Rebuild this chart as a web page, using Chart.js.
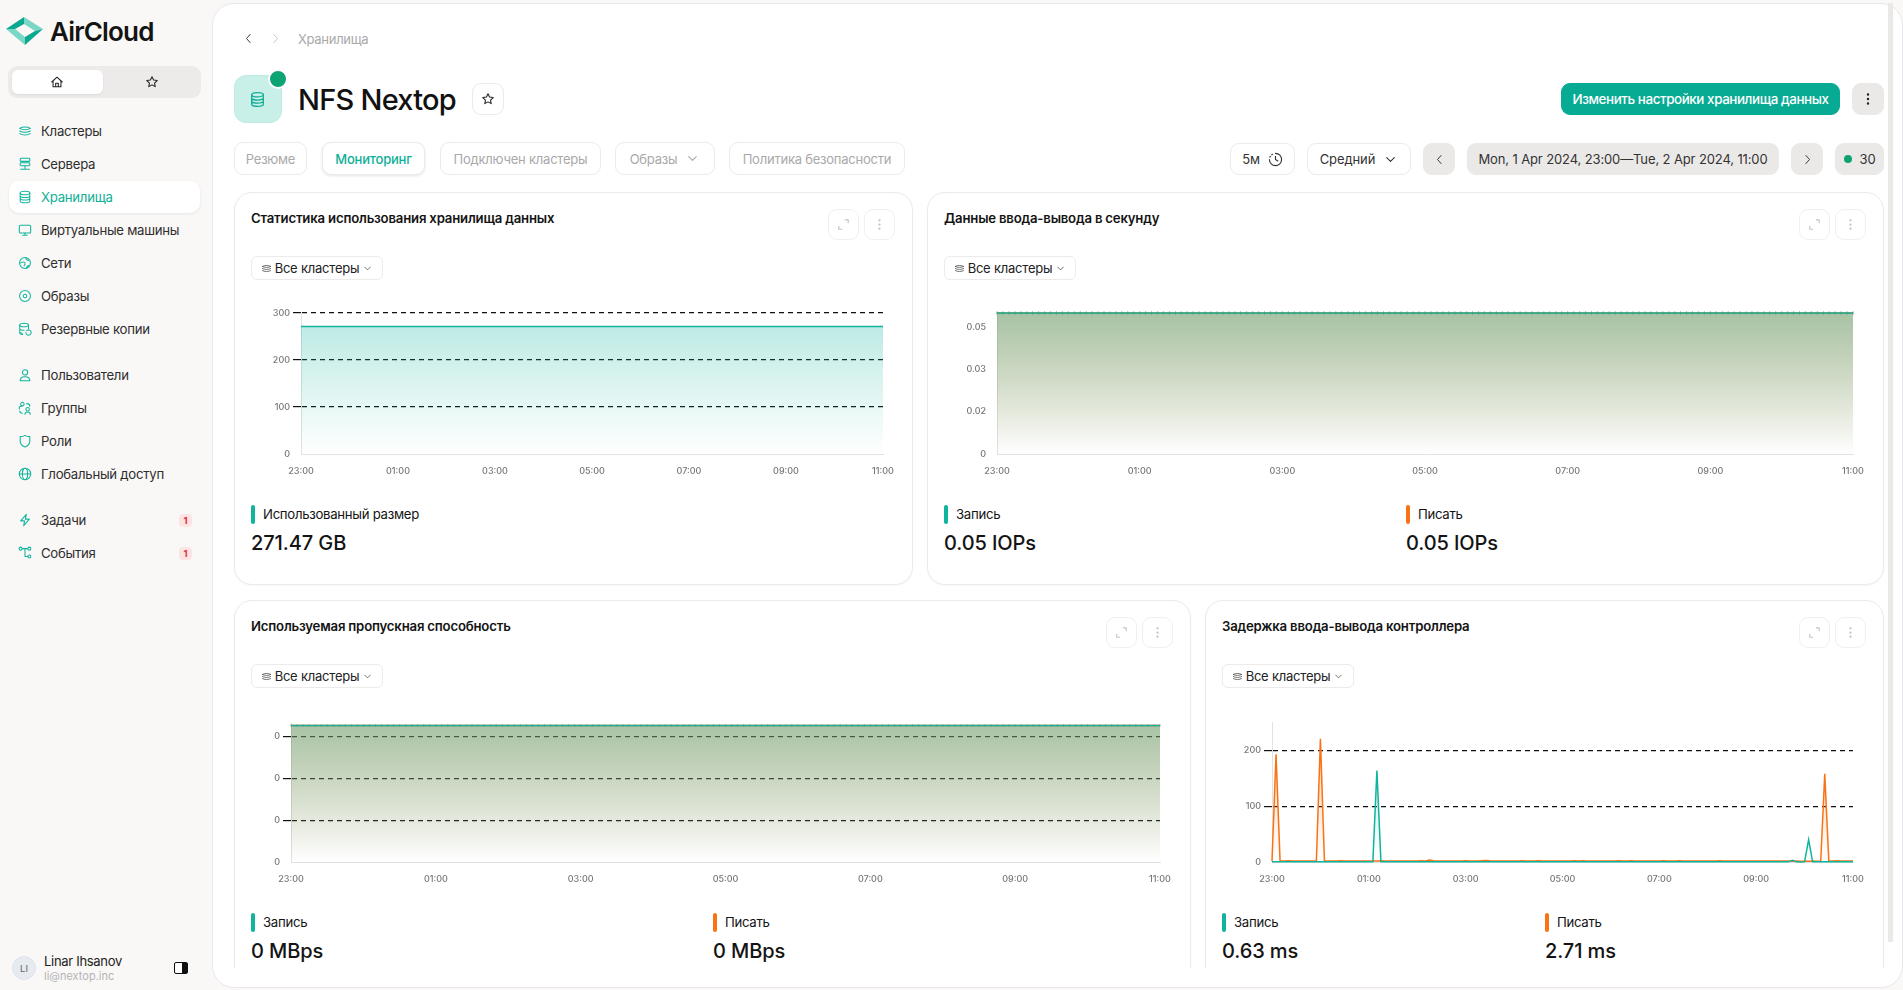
<!DOCTYPE html>
<html lang="ru">
<head>
<meta charset="utf-8">
<title>AirCloud</title>
<script src="https://cdn.jsdelivr.net/npm/chart.js@4"></script>
<style>
html,body{margin:0;padding:0;width:1903px;height:990px;overflow:hidden;background:#faf8f7;font-family:Inter,"Noto Sans",sans-serif;color:#141414}
.abs,.btn,.txt,.card,.nav,.bar,.val,.lab{position:absolute;box-sizing:border-box}
.txt,.nav,.lab,.val{white-space:nowrap;line-height:1}
.nav{left:41px;font-size:13.2px;letter-spacing:-.27px;color:#2e2e2e;transform:translateY(-50%)}
.btn{border:1px solid #ecebea;border-radius:9px;display:flex;align-items:center;justify-content:center;font-size:13px;letter-spacing:-.22px;background:#fff;white-space:nowrap;color:#a9a9a9;gap:8px}
.btn.grey{background:#ebe9e7;border-color:#ebe9e7;color:#333}
.card{background:#fff;border:1px solid #eceaea;border-radius:18px;box-shadow:0 1px 2px rgba(0,0,0,.04)}
.bar{width:4px;height:19px;border-radius:2px}
.lab{font-size:13.2px;letter-spacing:-.3px;transform:translateY(-50%)}
.val{font-size:20px;font-weight:500;letter-spacing:-.1px;transform:translateY(-50%)}
.ttl{font-size:13.2px;font-weight:600;letter-spacing:-.2px}
canvas{position:absolute;display:block}
svg{display:block}
</style>
</head>
<body>
<div id="page"></div>
<script>
// five minute samples, 23:00 to 11:00
var categories = []
for (var m = 0; m <= 720; m += 5) {
    var total = 23 * 60 + m
    var hh = Math.floor(total / 60) % 24
    var mm = total % 60
    categories.push((hh < 10 ? "0" : "") + hh + ":" + (mm < 10 ? "0" : "") + mm)
}
var timeTicks = ["23:00", "01:00", "03:00", "05:00", "07:00", "09:00", "11:00"]

var storageTicks = [0, 100, 200, 300]
var iopsTicks = [0, 0.0167, 0.0333, 0.05]
var bandwidthTicks = [0, 0.001, 0.002, 0.003]
var latencyTicks = [0, 100, 200]

var storageUsed = [
    271.47,271.47,271.47,271.47,271.47,271.47,271.47,271.47,271.47,271.47,271.47,271.47,
    271.47,271.47,271.47,271.47,271.47,271.47,271.47,271.47,271.47,271.47,271.47,271.47,
    271.47,271.47,271.47,271.47,271.47,271.47,271.47,271.47,271.47,271.47,271.47,271.47,
    271.47,271.47,271.47,271.47,271.47,271.47,271.47,271.47,271.47,271.47,271.47,271.47,
    271.47,271.47,271.47,271.47,271.47,271.47,271.47,271.47,271.47,271.47,271.47,271.47,
    271.47,271.47,271.47,271.47,271.47,271.47,271.47,271.47,271.47,271.47,271.47,271.47,
    271.47,271.47,271.47,271.47,271.47,271.47,271.47,271.47,271.47,271.47,271.47,271.47,
    271.47,271.47,271.47,271.47,271.47,271.47,271.47,271.47,271.47,271.47,271.47,271.47,
    271.47,271.47,271.47,271.47,271.47,271.47,271.47,271.47,271.47,271.47,271.47,271.47,
    271.47,271.47,271.47,271.47,271.47,271.47,271.47,271.47,271.47,271.47,271.47,271.47,
    271.47,271.47,271.47,271.47,271.47,271.47,271.47,271.47,271.47,271.47,271.47,271.47,
    271.47,271.47,271.47,271.47,271.47,271.47,271.47,271.47,271.47,271.47,271.47,271.47,
    271.47]

var iopsWrite = [
    .0555,.0555,.0555,.0555,.0555,.0555,.0555,.0555,.0555,.0555,.0555,.0555,
    .0555,.0555,.0555,.0555,.0555,.0555,.0555,.0555,.0555,.0555,.0555,.0555,
    .0555,.0555,.0555,.0555,.0555,.0555,.0555,.0555,.0555,.0555,.0555,.0555,
    .0555,.0555,.0555,.0555,.0555,.0555,.0555,.0555,.0555,.0555,.0555,.0555,
    .0555,.0555,.0555,.0555,.0555,.0555,.0555,.0555,.0555,.0555,.0555,.0555,
    .0555,.0555,.0555,.0555,.0555,.0555,.0555,.0555,.0555,.0555,.0555,.0555,
    .0555,.0555,.0555,.0555,.0555,.0555,.0555,.0555,.0555,.0555,.0555,.0555,
    .0555,.0555,.0555,.0555,.0555,.0555,.0555,.0555,.0555,.0555,.0555,.0555,
    .0555,.0555,.0555,.0555,.0555,.0555,.0555,.0555,.0555,.0555,.0555,.0555,
    .0555,.0555,.0555,.0555,.0555,.0555,.0555,.0555,.0555,.0555,.0555,.0555,
    .0555,.0555,.0555,.0555,.0555,.0555,.0555,.0555,.0555,.0555,.0555,.0555,
    .0555,.0555,.0555,.0555,.0555,.0555,.0555,.0555,.0555,.0555,.0555,.0555,
    .0555]
var iopsRead = iopsWrite.slice()

var bandwidthWrite = [
    .00326,.00326,.00326,.00326,.00326,.00326,.00326,.00326,.00326,.00326,.00326,.00326,
    .00326,.00326,.00326,.00326,.00326,.00326,.00326,.00326,.00326,.00326,.00326,.00326,
    .00326,.00326,.00326,.00326,.00326,.00326,.00326,.00326,.00326,.00326,.00326,.00326,
    .00326,.00326,.00326,.00326,.00326,.00326,.00326,.00326,.00326,.00326,.00326,.00326,
    .00326,.00326,.00326,.00326,.00326,.00326,.00326,.00326,.00326,.00326,.00326,.00326,
    .00326,.00326,.00326,.00326,.00326,.00326,.00326,.00326,.00326,.00326,.00326,.00326,
    .00326,.00326,.00326,.00326,.00326,.00326,.00326,.00326,.00326,.00326,.00326,.00326,
    .00326,.00326,.00326,.00326,.00326,.00326,.00326,.00326,.00326,.00326,.00326,.00326,
    .00326,.00326,.00326,.00326,.00326,.00326,.00326,.00326,.00326,.00326,.00326,.00326,
    .00326,.00326,.00326,.00326,.00326,.00326,.00326,.00326,.00326,.00326,.00326,.00326,
    .00326,.00326,.00326,.00326,.00326,.00326,.00326,.00326,.00326,.00326,.00326,.00326,
    .00326,.00326,.00326,.00326,.00326,.00326,.00326,.00326,.00326,.00326,.00326,.00326,
    .00326]
var bandwidthRead = bandwidthWrite.slice()

var latencyWrite = [
    .3,.3,.3,.3,.3,.3,.3,.3,.3,.3,.3,.3,
    .3,.3,.3,.3,.3,.3,.3,.3,.3,.3,.3,.3,
    .3,.3,164,.3,.3,.3,.3,.3,.3,.3,.3,.3,
    .3,.3,.3,.3,.3,.3,.3,.3,.3,.3,.3,.3,
    .3,.3,.3,.3,.3,.3,.3,.3,.3,.3,.3,.3,
    .3,.3,.3,.3,.3,.3,.3,.3,.3,.3,.3,.3,
    .3,.3,.3,.3,.3,.3,.3,.3,.3,.3,.3,.3,
    .3,.3,.3,.3,.3,.3,.3,.3,.3,.3,.3,.3,
    .3,.3,.3,.3,.3,.3,.3,.3,.3,.3,.3,.3,
    .3,.3,.3,.3,.3,.3,.3,.3,.3,.3,.3,.3,
    .3,.3,.3,.3,.3,.3,.3,.3,.3,3,.3,.2,
    .3,40,.3,.3,.3,.3,.3,.3,.3,.3,.3,.3,
    .3]
var latencyRead = [
    1.5,193,2,2,2.1,2,2,1.9,2,2,1.8,2,
    221,2,2,2,1.9,2.1,2,2,2,1.9,2,2,
    2,2,2,2.1,2,2,1.9,2,2,2,2,2,
    2,2.2,2,3.5,2.4,2,2,2,1.9,2,2,2,
    2.1,2,2,2,2.4,2.6,2.2,2,2,1.9,2,2,
    2,2,2.3,2,2,2,2.1,2,2,1.9,2,2,
    2,2,2,2.1,2,2.2,2,2,1.9,2,2,2,
    2,2,2.1,2,2,2.3,2,1.9,2,2,2,2,
    2,2.1,2,2,2,2.2,2,2,2,1.9,2,2,
    2,2,2,2.1,2,2,2,2,2,1.9,2,2,
    2,2,2,1.9,2,2,2,2,2,1.5,1.6,1.5,
    1.5,1.5,1.6,1.5,1.6,158,2,2,2.1,2,2,2,
    2]

var TEAL = "#10b49c"
var ORANGE = "#f97316"

function el(cls, style, html, parent) {
    var d = document.createElement("div")
    d.className = cls
    d.style.cssText = style
    if (html) d.innerHTML = html
    ;(parent || page).appendChild(d)
    return d
}
var page = document.getElementById("page")

function icon(body, size, color, extra) {
    return '<svg width="' + size + '" height="' + size + '" viewBox="0 0 16 16" fill="none" stroke="' + (color || TEAL) + '" stroke-width="1.2" stroke-linecap="round" stroke-linejoin="round" ' + (extra || "") + '>' + body + '</svg>'
}
var ICONS = {
    layers: '<path d="M2 5c3-2 9-2 12 0M2 8c3 2 9 2 12 0M2 11c3 2 9 2 12 0M2 5c3 2 9 2 12 0"/>',
    server: '<rect x="2.5" y="1.5" width="11" height="3.5" rx="1"/><rect x="2.5" y="6.5" width="11" height="3.5" rx="1"/><path d="M8 10v3M3 14h10"/>',
    db: '<ellipse cx="8" cy="3.5" rx="5.5" ry="2"/><path d="M2.5 3.5v9c0 1 2.5 2 5.5 2s5.5-1 5.5-2v-9M2.5 6.5c0 1 2.5 2 5.5 2s5.5-1 5.5-2M2.5 9.5c0 1 2.5 2 5.5 2s5.5-1 5.5-2"/>',
    screen: '<rect x="1.5" y="2.5" width="13" height="9" rx="1.2"/><path d="M8 11.5v2.5M5.5 14h5"/>',
    net: '<circle cx="8" cy="8" r="6.2"/><path d="M2 8c2 0 3-2 5-1s1 3 0 4M9 2c0 2 1 3 3 3M10 14c0-2 1-3 3-3"/>',
    disc: '<circle cx="8" cy="8" r="6.2"/><circle cx="8" cy="8" r="2"/>',
    backup: '<ellipse cx="7" cy="3.5" rx="5" ry="2"/><path d="M2 3.5v9c0 1 1.5 1.6 3.5 1.8M12 3.5v4M2 7.5c0 1 2.2 2 5 2M2 11c0 1 1.5 1.6 3 1.8"/><path d="M9 12a3 3 0 1 0 1-2.2"/>',
    user: '<circle cx="8" cy="5" r="3"/><path d="M2.5 14.5c0-3 2.5-4.5 5.5-4.5s5.5 1.5 5.5 4.5z"/>',
    group: '<circle cx="5" cy="3.5" r="2"/><circle cx="11" cy="9.5" r="2"/><path d="M1.5 9V7.5c0-.8 1-1.5 3-1.5M8 15c0-2 1.5-2.5 3-2.5s3 .5 3 2.5M2 11.5c0 1.5.8 2.500 3 2.500M10 3c2 0 3.500.5 3.500 3"/>',
    shield: '<path d="M2.5 3C5 3 6.5 2.5 8 1.500 9.500 2.500 11 3 13.500 3v5c0 3.500-3 6-5.500 6.800C5.500 14 2.500 11.500 2.500 8z"/>',
    globe: '<circle cx="8" cy="8" r="6.5"/><ellipse cx="8" cy="8" rx="3" ry="6.5"/><path d="M1.5 8h13"/>',
    bolt: '<path d="M9.5 1.5 3 9h4.5l-1 5.5L13 7H8.5z"/>',
    flow: '<circle cx="3" cy="3" r="1.7"/><circle cx="13" cy="3" r="1.7"/><circle cx="13" cy="12" r="1.7"/><path d="M5 3h6M8 3v9h3"/>',
    home: '<path d="M2 8 8 2.5 14 8M3.5 7v6.500h9V7M6.500 13.500V9.500h3v4"/>',
    star: '<path d="m8 2 1.8 3.8 4.2.5-3.100 2.900.8 4.100L8 11.300 4.300 13.300l.8-4.100L2 6.300l4.200-.5z"/>',
    clock: '<path d="M8 1.5a6.500 6.500 0 1 1-6.500 6.500" /><path d="M8 4.500V8l2.500 1.500"/><path d="M2 5.500 3 4M4 3l1.500-1" stroke-dasharray="1 1"/>',
    chevDown: '<path d="M4 6l4 4 4-4"/>',
    expand: '<path d="M10 3h3v3M6 13H3v-3"/>',
    more: '<circle cx="8" cy="3.5" r=".6"/><circle cx="8" cy="8" r=".6"/><circle cx="8" cy="12.5" r=".6"/>'
}

// sidebar
el("abs", "left:5px;top:16px;width:40px;height:30px", '<svg width="40" height="30" viewBox="0 0 40 30"><path d="M1 13 19 1v7l-9 5z" fill="#0aa88f"/><path d="M19 1 38 13l-8 2-11-7z" fill="#7ad6c5"/><path d="M1 13h9l10 8v8z" fill="#7ad6c5"/><path d="M20 29 38 13l-8 2-10 6z" fill="#0aa88f"/></svg>')
el("txt", "left:50px;top:19px;font-size:26px;font-weight:600;letter-spacing:-.8px", "AirCloud")
el("abs", "left:8px;top:66px;width:193px;height:32px;background:#ecebe9;border-radius:9px")
el("abs", "left:12px;top:70px;width:91px;height:24px;background:#fff;border-radius:6px;box-shadow:0 1px 2px rgba(0,0,0,.08)")
el("abs", "left:50px;top:75px", icon(ICONS.home, 14, "#222"))
el("abs", "left:145px;top:75px", icon(ICONS.star, 14, "#222"))
el("abs", "left:9px;top:181px;width:191px;height:32px;background:#fff;border-radius:10px;box-shadow:0 1px 3px rgba(0,0,0,.08)")

var navItems = [
    ["Кластеры", 131, "layers"], ["Сервера", 164, "server"], ["Хранилища", 197, "db"],
    ["Виртуальные машины", 230, "screen"], ["Сети", 263, "net"], ["Образы", 296, "disc"],
    ["Резервные копии", 329, "backup"], ["Пользователи", 375, "user"], ["Группы", 408, "group"],
    ["Роли", 441, "shield"], ["Глобальный доступ", 474, "globe"], ["Задачи", 520, "bolt"], ["События", 553, "flow"]
]
navItems.forEach(function (n) {
    el("abs", "left:18px;top:" + (n[1] - 7) + "px", icon(ICONS[n[2]], 14))
    el("nav", "top:" + (n[1] + 1) + "px;" + (n[0] === "Хранилища" ? "color:#0eaf96;" : ""), n[0])
})
;[520, 553].forEach(function (y) {
    el("abs", "left:179px;top:" + (y - 6) + "px;width:13px;height:13px;border-radius:4px;background:#fde4e4;color:#e0323c;font-size:9.5px;font-weight:700;text-align:center;line-height:13px", "1")
})
el("abs", "left:12px;top:956px;width:24px;height:24px;border-radius:50%;background:#e6ebf2;border:1px solid #dfe4ec;font-size:9.5px;color:#666;text-align:center;line-height:23px", "LI")
el("txt", "left:44px;top:955px;font-size:13px;letter-spacing:-.3px;color:#222", "Linar Ihsanov")
el("txt", "left:44px;top:971px;font-size:11px;color:#b4b4b4", "li@nextop.inc")
el("abs", "left:174px;top:962px;width:14px;height:12px;border:1.5px solid #111;border-radius:2px;background:linear-gradient(90deg,#fff 55%,#111 55%)")

// main panel
el("abs", "left:212px;top:3px;width:1691px;height:985px;background:#fff;border-radius:22px;border:1px solid #e9e7ea;box-sizing:border-box")
el("abs", "left:1888px;top:3px;width:5px;height:939px;background:#ebe9e7")

el("abs", "left:242px;top:32px", icon('<path d="M10 3 5.5 8l4.5 5"/>', 13, "#333"))
el("abs", "left:269px;top:32px", icon('<path d="M6 3l4.5 5L6 13"/>', 13, "#c4c4c4"))
el("txt", "left:298px;top:33px;font-size:13px;letter-spacing:-.3px;color:#a9a9a9", "Хранилища")

el("abs", "left:234px;top:75px;width:48px;height:48px;background:#c8f0e8;border-radius:12px;border:1px solid #bfeae1;box-sizing:border-box")
el("abs", "left:249px;top:91px", icon(ICONS.db, 17, "#12ad96"))
el("abs", "left:268px;top:69px;width:20px;height:20px;background:#0ea372;border:2px solid #fff;border-radius:50%;box-sizing:border-box")
el("txt", "left:298px;top:85px;font-size:29px;font-weight:500;letter-spacing:-.75px;color:#111", "NFS Nextop")
el("btn", "left:472px;top:83px;width:32px;height:32px", icon(ICONS.star, 14, "#222"))

var tabs = [["Резюме", 234, 73], ["Мониторинг", 322, 103], ["Подключен кластеры", 440, 161], ["Образы", 615, 100], ["Политика безопасности", 729, 176]]
tabs.forEach(function (t) {
    var active = t[0] === "Мониторинг"
    el("btn", "left:" + t[1] + "px;top:142px;width:" + t[2] + "px;height:33px;" + (active ? "color:#0eaf96;font-weight:500;box-shadow:0 1px 3px rgba(0,0,0,.1);" : ""),
        t[0] + (t[0] === "Образы" ? icon(ICONS.chevDown, 15, "#a9a9a9") : ""))
})

el("btn", "left:1561px;top:83px;width:279px;height:32px;background:#07ab93;border-color:#07ab93;color:#fff;font-weight:500;font-size:13.4px;letter-spacing:-.42px", "Изменить настройки хранилища данных")
el("btn grey", "left:1852px;top:83px;width:32px;height:32px", icon(ICONS.more, 16, "#222"))
el("btn", "left:1230px;top:143px;width:65px;height:32px;color:#333", "5м" + icon(ICONS.clock, 15, "#333"))
el("btn", "left:1307px;top:143px;width:104px;height:32px;color:#333;letter-spacing:-.1px", "Средний" + icon(ICONS.chevDown, 15, "#333"))
el("btn grey", "left:1423px;top:143px;width:32px;height:32px", icon('<path d="M10 3 5.5 8l4.500 5"/>', 13, "#333"))
el("btn grey", "left:1467px;top:143px;width:312px;height:32px;letter-spacing:-.12px", "Mon, 1 Apr 2024, 23:00—Tue, 2 Apr 2024, 11:00")
el("btn grey", "left:1791px;top:143px;width:32px;height:32px", icon('<path d="M6 3l4.5 5L6 13"/>', 13, "#333"))
el("btn grey", "left:1835px;top:143px;width:49px;height:32px", '<span style="width:8px;height:8px;border-radius:50%;background:#0ea372"></span>30')

// cards are cut by the scroll area
var scroll = el("abs", "left:0;top:0;width:1903px;height:968px;overflow:hidden")

function button(left, top, body) {
    return el("btn", "left:" + left + "px;top:" + top + "px;width:31px;height:31px;border-color:#f1f0ef", icon(body, 15, "#c2c2c2"), scroll)
}

function card(c) {
    el("card", "left:" + c.x + "px;top:" + c.y + "px;width:" + c.w + "px;height:" + c.h + "px", "", scroll)
    el("txt ttl", "left:" + (c.x + 17) + "px;top:" + (c.y + 20) + "px", c.title, scroll)
    button(c.x + c.w - 85, c.y + 17, ICONS.expand)
    button(c.x + c.w - 49, c.y + 17, ICONS.more)
    el("btn", "left:" + (c.x + 17) + "px;top:" + (c.y + 64) + "px;width:132px;height:24px;border-radius:6px;color:#222;gap:3px;font-size:13px", icon(ICONS.layers, 11, "#555") + "Все кластеры" + icon(ICONS.chevDown, 11, "#555"), scroll)
    c.legend.forEach(function (l) {
        el("bar", "left:" + l.x + "px;top:" + (c.y + 313) + "px;background:" + l.color, "", scroll)
        el("lab", "left:" + (l.x + 12) + "px;top:" + (c.y + 323) + "px", l.label, scroll)
        el("val", "left:" + l.x + "px;top:" + (c.y + 351) + "px", l.value, scroll)
    })
}

function gradient(color) {
    return function (ctx) {
        var area = ctx.chart.chartArea
        if (!area) return "transparent"
        var g = ctx.chart.ctx.createLinearGradient(0, area.top, 0, area.bottom)
        g.addColorStop(0, color[0])
        g.addColorStop(1, color[1])
        return g
    }
}
var tealFill = gradient(["rgba(16,180,156,.3)", "rgba(16,180,156,0)"])
var tealFillStrong = gradient(["rgba(16,180,156,.36)", "rgba(16,180,156,0)"])
var orangeFill = gradient(["rgba(249,115,22,.37)", "rgba(249,115,22,0)"])

function line(values, color, fill, marks) {
    return {
        data: values, borderColor: color, backgroundColor: fill, borderWidth: 1.5,
        fill: "origin", tension: 0, clip: false,
        pointRadius: marks ? 1.5 : 0, pointStyle: "line", pointRotation: 90,
        pointBorderColor: marks, pointBorderWidth: 1
    }
}

// plot box is given in page pixels, the canvas is grown around it for labels
function plot(box, datasets, yTicks, yFormat, yMax, showGrid) {
    var padLeft = 50, padTop = 10, padRight = 30, padBottom = 30
    var canvas = document.createElement("canvas")
    canvas.width = box.r - box.l + padLeft + padRight
    canvas.height = box.b - box.t + padTop + padBottom
    canvas.style.left = (box.l - padLeft) + "px"
    canvas.style.top = (box.t - padTop) + "px"
    canvas.style.width = canvas.width + "px"
    canvas.style.height = canvas.height + "px"
    scroll.appendChild(canvas)
    new Chart(canvas, {
        type: "line",
        data: { labels: categories, datasets: datasets },
        options: {
            responsive: false, animation: false, devicePixelRatio: 1,
            layout: { padding: { top: padTop, right: padRight, left: 0, bottom: 0 } },
            plugins: { legend: { display: false }, tooltip: { enabled: false } },
            scales: {
                x: {
                    afterBuildTicks: function (s) {
                        s.ticks = s.ticks.filter(function (t) { return timeTicks.indexOf(categories[t.value]) >= 0 && t.value % 24 === 0 })
                    },
                    afterFit: function (s) { s.height = padBottom },
                    grid: { display: false },
                    border: { color: "#e2e2e2" },
                    ticks: { autoSkip: false, maxRotation: 0, padding: 4, color: "#777", font: { family: "Inter", size: 9, weight: 500 } }
                },
                y: {
                    min: 0, max: yMax,
                    afterBuildTicks: function (s) { s.ticks = yTicks.map(function (v) { return { value: v } }) },
                    afterFit: function (s) { s.width = padLeft },
                    border: { color: "#e2e2e2", dash: [5, 4] },
                    grid: {
                        drawTicks: true, tickLength: 8, tickBorderDash: [], lineWidth: 1.2,
                        color: function (c) { return !showGrid || c.tick.value === 0 ? "transparent" : "#111" },
                        tickColor: function (c) { return !showGrid || c.tick.value === 0 ? "transparent" : "#111" }
                    },
                    ticks: { padding: 3, color: "#777", callback: yFormat, font: { family: "Inter", size: 9, weight: 500 } }
                }
            }
        }
    })
}

card({ x: 234, y: 192, w: 679, h: 393, title: "Статистика использования хранилища данных",
    legend: [{ x: 251, color: TEAL, label: "Использованный размер", value: "271.47 GB" }] })
card({ x: 927, y: 192, w: 957, h: 393, title: "Данные ввода-вывода в секунду",
    legend: [{ x: 944, color: TEAL, label: "Запись", value: "0.05 IOPs" }, { x: 1406, color: ORANGE, label: "Писать", value: "0.05 IOPs" }] })
card({ x: 234, y: 600, w: 957, h: 420, title: "Используемая пропускная способность",
    legend: [{ x: 251, color: TEAL, label: "Запись", value: "0 MBps" }, { x: 713, color: ORANGE, label: "Писать", value: "0 MBps" }] })
card({ x: 1205, y: 600, w: 679, h: 420, title: "Задержка ввода-вывода контроллера",
    legend: [{ x: 1222, color: TEAL, label: "Запись", value: "0.63 ms" }, { x: 1545, color: ORANGE, label: "Писать", value: "2.71 ms" }] })

plot({ l: 301, r: 883, t: 313, b: 454 }, [line(storageUsed, TEAL, tealFill)], storageTicks,
    function (v) { return String(v) }, 300, true)
plot({ l: 997, r: 1853, t: 313, b: 454 }, [line(iopsWrite, TEAL, tealFillStrong, "#4d9a78"), line(iopsRead, ORANGE, orangeFill)], iopsTicks,
    function (v) { return v ? v.toFixed(2) : "0" }, 0.0555, false)
plot({ l: 291, r: 1160, t: 723, b: 862 }, [line(bandwidthWrite, TEAL, tealFillStrong, "rgba(130,130,130,.6)"), line(bandwidthRead, ORANGE, orangeFill)], bandwidthTicks,
    function (v) { return v.toFixed(0) }, 0.00332, true)
plot({ l: 1272, r: 1853, t: 722, b: 862 }, [line(latencyWrite, TEAL, tealFill), line(latencyRead, ORANGE, orangeFill)], latencyTicks,
    function (v) { return String(v) }, 251, true)
</script>
</body>
</html>
